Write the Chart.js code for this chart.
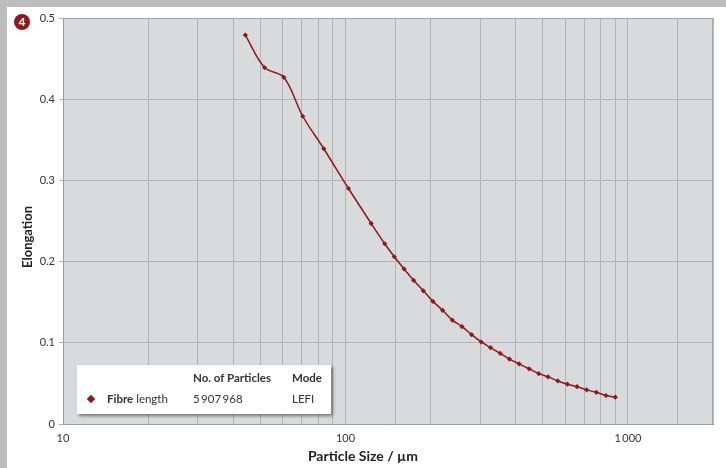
<!DOCTYPE html>
<html>
<head>
<meta charset="utf-8">
<script src="https://cdn.jsdelivr.net/npm/chart.js@4"></script>
<style>
  body { margin: 0; background: #fff; font-family: Lato, "Open Sans", sans-serif; color: #333; }
  #wrap { position: relative; width: 726px; height: 468px; overflow: hidden; }
  .strip { position: absolute; background: #bdbdbd; }
  canvas { position: absolute; left: 0; top: 0; }
  #badge { position: absolute; left: 14px; top: 14px; width: 16px; height: 16px; border-radius: 50%;
           background: #8b1a1f; color: #fff; font: bold 12px Lato, sans-serif; text-align: center; line-height: 16px; }
  .ttl { position: absolute; font-weight: bold; font-size: 14px; color: #222; white-space: nowrap; }
  #legend { position: absolute; left: 77px; top: 365px; width: 254px; height: 49px; background: #fff;
            box-shadow: 2px 2px 3px rgba(0,0,0,0.45); font-size: 11.5px; color: #333; }
  #legend span { position: absolute; white-space: nowrap; }
  .dia { width: 6px; height: 6px; background: #8b1a1f; transform: rotate(45deg); }
</style>
</head>
<body>
<div id="wrap">
  <div class="strip" style="left:0;top:0;width:726px;height:7px"></div>
  <div class="strip" style="left:0;top:0;width:7px;height:468px"></div>
  <canvas id="myChart" width="726" height="468"></canvas>
  <div id="badge">4</div>
  <div class="ttl" id="xt" style="left:0;width:726px;top:447px;text-align:center">Particle Size / µm</div>
  <div class="ttl" id="yt" style="left:-23px;top:229px;width:100px;text-align:center;font-size:13px;transform:rotate(-90deg)">Elongation</div>
  <div id="legend">
    <span style="left:116px;top:6px;font-weight:bold">No. of Particles</span>
    <span style="left:215px;top:6px;font-weight:bold">Mode</span>
    <span class="dia" style="left:11px;top:31px"></span>
    <span style="left:30px;top:27px"><b>Fibre</b> length</span>
    <span style="left:116px;top:27px">5&#8201;907&#8201;968</span>
    <span style="left:215px;top:27px">LEFI</span>
  </div>
</div>
<script>
const ctx = document.getElementById('myChart');

// particle size (µm) and elongation
const sizes = [44.2, 51.7, 60.5, 70.6, 83.8, 102.5, 123.3, 137.7, 148.9, 161.2, 174.3, 188.6, 204, 220.7,
  238.8, 258.4, 279.5, 302.4, 326.2, 352.9, 380.7, 411.9, 446.7, 483.5, 521.6, 564.5, 610.3, 660.3,
  714.5, 772.6, 836, 902];
const elongation = [0.479, 0.439, 0.427, 0.379, 0.339, 0.290, 0.247, 0.222, 0.206, 0.191, 0.177, 0.164,
  0.151, 0.140, 0.128, 0.120, 0.110, 0.101, 0.094, 0.087, 0.080, 0.074, 0.068, 0.062, 0.058, 0.053,
  0.049, 0.046, 0.042, 0.039, 0.035, 0.033];
const xTickValues = [10, 100, 1000];
const xTickLabels = ['10', '100', '1\u2009000'];
const seriesName = 'Fibre length';

const red = '#8b1a1f';

const plotBg = {
  id: 'plotBg',
  beforeDraw(chart) {
    const a = chart.chartArea, c = chart.ctx;
    c.save();
    c.fillStyle = '#d9dadb';
    c.fillRect(a.left, a.top, a.right - a.left, a.bottom - a.top);
    c.restore();
  },
  afterDatasetsDraw(chart) {
    const a = chart.chartArea, c = chart.ctx;
    c.save();
    c.strokeStyle = '#a9a9a9';
    c.lineWidth = 1;
    c.beginPath();
    c.moveTo(a.left, a.top + 0.5);
    c.lineTo(a.right - 0.5, a.top + 0.5);
    c.lineTo(a.right - 0.5, a.bottom);
    c.stroke();
    c.restore();
  }
};

let chart = new Chart(ctx, {
  type: 'line',
  data: {
    datasets: [{
      label: seriesName,
      data: sizes.map((s, i) => ({ x: s, y: elongation[i] })),
      borderColor: red,
      backgroundColor: red,
      borderWidth: 1.5,
      tension: 0.35,
      pointStyle: 'rectRot',
      pointRadius: 2.6,
      pointBorderWidth: 0
    }]
  },
  plugins: [plotBg],
  options: {
    responsive: false,
    animation: false,
    layout: { padding: { top: 18, right: 13, left: 0, bottom: 0 } },
    plugins: { legend: { display: false }, tooltip: { enabled: false } },
    scales: {
      x: {
        type: 'logarithmic',
        min: 10,
        max: 2000,
        afterFit(scale) { scale.height = 44; },
        grid: { color: '#b4b4b4', drawTicks: false },
        border: { color: '#9c9c9c' },
        ticks: {
          autoSkip: false,
          maxRotation: 0,
          padding: 8,
          color: '#333',
          font: { family: 'Lato', size: 11 },
          callback(v) {
            const k = xTickValues.indexOf(v);
            return k >= 0 ? xTickLabels[k] : '';
          }
        }
      },
      y: {
        min: 0,
        max: 0.5,
        afterFit(scale) { scale.width = 63; },
        grid: { color: '#b4b4b4', tickLength: 4 },
        border: { color: '#9c9c9c' },
        ticks: {
          stepSize: 0.1,
          padding: 4,
          color: '#333',
          font: { family: 'Lato', size: 11 }
        }
      }
    }
  }
});
</script>
</body>
</html>
